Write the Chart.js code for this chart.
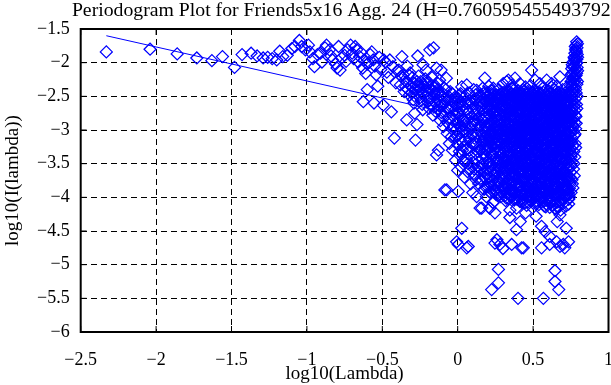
<!DOCTYPE html>
<html>
<head>
<meta charset="utf-8">
<script src="https://cdn.jsdelivr.net/npm/chart.js@4/dist/chart.umd.min.js"></script>
<style>
  html, body { margin: 0; padding: 0; background: #fff; }
  canvas { display: block; }
</style>
</head>
<body>
<canvas id="chart" width="611" height="385"></canvas>
<script>
// tick labels
const xTickVals = [-2.5, -2, -1.5, -1, -0.5, 0, 0.5, 1];
const yTickVals = [-6, -5.5, -5, -4.5, -4, -3.5, -3, -2.5, -2, -1.5];

// periodogram points [log10(lambda), log10(I(lambda))]
const lowFreq = [
  [-2.33,-1.84],[-2.04,-1.80],[-1.86,-1.87],[-1.73,-1.93],[-1.63,-1.97],[-1.56,-1.91],[-1.48,-2.07],
  [-1.43,-1.88],[-1.37,-1.86],[-1.33,-1.90],[-1.29,-1.93],[-1.26,-1.92],[-1.23,-1.94],[-1.20,-1.96],
  [-1.18,-1.83],[-1.16,-1.91],[-1.13,-1.89],[-1.10,-1.79],[-1.08,-1.76],[-1.05,-1.67],[-1.035,-1.76],
  [-1.01,-1.81],[-0.99,-1.74],[-0.98,-1.84],[-0.96,-1.94],[-0.95,-2.06],[-0.93,-1.88],[-0.91,-1.86],
  [-0.90,-1.99],[-0.88,-1.78],[-0.87,-1.74],[-0.85,-1.81],[-0.84,-1.90],[-0.83,-1.96],[-0.81,-2.02],
  [-0.80,-2.08],[-0.79,-1.76],[-0.78,-2.11],[-0.77,-1.93],[-0.75,-1.89],[-0.74,-1.98],[-0.73,-1.81],
  [-0.71,-1.74],[-0.70,-1.86],[-0.69,-1.94],[-0.68,-1.76],[-0.67,-1.81],[-0.66,-1.99],[-0.65,-1.91],
  [-0.64,-1.85],[-0.63,-2.08],[-0.626,-2.58],[-0.62,-1.96],[-0.61,-2.16],[-0.60,-2.40],[-0.60,-2.02],
  [-0.59,-2.00],[-0.58,-1.88],[-0.57,-1.84],[-0.56,-1.96],[-0.555,-2.60],[-0.55,-2.05],[-0.54,-2.18],
  [-0.53,-2.35],[-0.52,-1.92],[-0.51,-2.10]
];
const midFreq = [
  [-0.494,-2.63],[-0.49,-1.96],[-0.48,-1.99],[-0.47,-2.14],[-0.46,-2.22],[-0.45,-1.96],[-0.44,-2.73],
  [-0.43,-2.06],[-0.42,-3.12],[-0.41,-2.30],[-0.40,-2.12],[-0.39,-2.11],[-0.38,-2.33],[-0.375,-2.20],
  [-0.37,-1.91],[-0.36,-2.18],[-0.355,-2.43],[-0.35,-2.26],[-0.34,-2.28],[-0.338,-2.85],[-0.335,-2.05],
  [-0.33,-2.40],[-0.32,-2.48],[-0.315,-2.15],[-0.31,-2.34],[-0.30,-2.22],[-0.295,-2.55],[-0.29,-2.30],
  [-0.285,-2.75],[-0.28,-3.15],[-0.275,-2.40],[-0.27,-2.92],[-0.265,-1.90],[-0.26,-2.20],[-0.255,-2.36],
  [-0.25,-2.52],[-0.245,-2.28],[-0.24,-2.45],[-0.235,-2.62],[-0.23,-2.03],[-0.225,-2.33],[-0.22,-2.50],
  [-0.215,-2.24],[-0.21,-2.11],[-0.205,-2.42],[-0.20,-2.58],[-0.195,-2.30],[-0.19,-2.68],[-0.185,-1.81],
  [-0.18,-2.40],[-0.175,-2.52],[-0.17,-2.22],[-0.165,-2.78],[-0.16,-1.78],[-0.155,-2.46],[-0.15,-2.60],
  [-0.145,-2.35],[-0.14,-2.08],[-0.14,-3.37],[-0.135,-2.55],[-0.13,-2.70],[-0.128,-3.30],[-0.125,-2.44],
  [-0.12,-2.26],[-0.115,-2.86],[-0.11,-2.11],[-0.105,-2.62],[-0.10,-2.50],[-0.095,-2.95],[-0.09,-2.38],
  [-0.085,-3.89],[-0.08,-2.72],[-0.075,-2.23],[-0.07,-3.05],[-0.065,-2.55],[-0.06,-2.82],[-0.055,-3.20],
  [-0.05,-2.43],[-0.045,-2.66],[-0.04,-2.98],[-0.035,-3.30],[-0.03,-2.58],[-0.025,-2.76],[-0.02,-3.12],
  [-0.015,-3.45],[-0.01,-2.64],[-0.005,-2.90],[0.0,-3.22],[0.0,-3.60],[0.004,-3.91],
  [-0.345,-2.36],[-0.325,-2.18],[-0.305,-2.44],[-0.29,-2.60],[-0.27,-2.28],[-0.25,-2.40],[-0.232,-2.70],
  [-0.218,-2.36],[-0.20,-2.46],[-0.186,-2.56],[-0.17,-2.34],[-0.158,-2.66],[-0.146,-2.48],[-0.132,-2.40],
  [-0.12,-2.58],[-0.108,-2.74],[-0.096,-2.46],[-0.084,-2.60],[-0.072,-2.88],[-0.062,-2.50],[-0.052,-2.70],
  [-0.042,-3.10],[-0.032,-2.86],[-0.022,-2.52],[-0.012,-3.00],[-0.004,-2.74],
  [-0.298,-2.38],[-0.284,-2.50],[-0.262,-2.34],[-0.242,-2.56],[-0.226,-2.46],[-0.208,-2.30],[-0.19,-2.52],
  [-0.176,-2.62],[-0.162,-2.42],[-0.148,-2.72],[-0.136,-2.30],[-0.124,-2.64],[-0.112,-2.48],[-0.1,-2.80],
  [-0.088,-2.54],[-0.078,-2.40],[-0.066,-2.68],[-0.056,-2.92],[-0.046,-2.56],[-0.036,-2.46],[-0.026,-2.94],
  [-0.016,-2.70],[-0.008,-3.08],[-0.002,-2.52]
];
const coreA = [
  [0.004,-2.62],[0.008,-3.05],[0.012,-2.48],[0.016,-3.38],[0.02,-2.80],[0.024,-3.55],[0.027,-2.36],
  [0.03,-3.02],[0.034,-2.70],[0.037,-3.25],[0.04,-2.52],[0.044,-3.70],[0.047,-2.93],[0.05,-3.15],
  [0.054,-2.60],[0.057,-3.44],[0.06,-2.33],[0.063,-2.85],[0.066,-3.62],[0.07,-2.74],[0.073,-3.10],
  [0.076,-2.45],[0.08,-3.30],[0.083,-2.98],[0.086,-3.80],[0.09,-2.58],[0.093,-3.20],[0.096,-2.68],
  [0.10,-3.48],[0.10,-3.93],[0.103,-2.90],[0.106,-2.40],[0.11,-3.12],[0.113,-3.66],[0.116,-2.77],
  [0.12,-3.35],[0.123,-2.55],[0.126,-3.99],[0.126,-2.41],[0.13,-3.05],[0.133,-2.84],[0.136,-3.55],
  [0.14,-2.62],[0.143,-3.26],[0.146,-2.95],[0.148,-4.16],[0.15,-2.48],[0.153,-3.72],[0.156,-3.10],
  [0.159,-4.16],[0.16,-2.70],[0.163,-3.42],[0.166,-2.38],[0.17,-3.00],[0.173,-3.62],[0.176,-2.82],
  [0.18,-2.23],[0.18,-3.28],[0.183,-2.56],[0.186,-3.85],[0.19,-3.14],[0.19,-3.99],[0.193,-2.66],
  [0.196,-3.48],[0.2,-2.92],[0.2,-2.44],
  [0.006,-2.90],[0.014,-3.14],[0.022,-2.58],[0.032,-3.30],[0.042,-2.88],[0.052,-3.48],[0.062,-3.04],
  [0.072,-2.60],[0.082,-3.58],[0.092,-2.92],[0.102,-3.22],[0.112,-2.56],[0.122,-3.74],[0.132,-3.32],
  [0.142,-2.80],[0.146,-3.62]
];
const coreB = [
  [0.203,-3.70],[0.206,-2.35],[0.208,-3.20],[0.21,-2.78],[0.212,-4.16],[0.214,-3.55],[0.217,-2.52],
  [0.219,-3.05],[0.222,-2.88],[0.224,-3.82],[0.226,-2.42],[0.229,-3.36],[0.231,-2.65],[0.234,-4.08],
  [0.236,-2.38],[0.238,-3.12],[0.241,-2.96],[0.243,-3.64],[0.245,-2.58],[0.247,-4.23],[0.249,-3.28],
  [0.252,-2.74],[0.254,-3.90],[0.256,-2.48],[0.258,-3.45],[0.26,-3.02],[0.263,-2.62],[0.265,-3.76],
  [0.267,-2.86],[0.27,-3.18],[0.272,-2.40],[0.274,-3.58],[0.277,-2.98],[0.279,-3.95],[0.281,-2.70],
  [0.283,-3.32],[0.285,-2.54],[0.288,-3.10],[0.29,-3.68],[0.292,-2.82],[0.295,-2.45],[0.297,-3.48],
  [0.30,-3.00],[0.302,-2.31],[0.304,-3.86],[0.306,-2.66],[0.309,-3.24],[0.311,-2.92],[0.313,-3.60],
  [0.315,-2.50],[0.318,-4.05],[0.32,-3.14],[0.322,-2.76],[0.325,-2.28],[0.327,-3.40],[0.329,-2.60],
  [0.331,-3.80],[0.334,-3.06],[0.336,-2.26],[0.338,-2.88],[0.34,-3.52],[0.342,-2.44],[0.346,-4.19],
  [0.348,-3.22],[0.35,-2.70],[0.352,-3.70],[0.355,-2.96],[0.357,-2.38],[0.36,-2.33],[0.36,-3.44],
  [0.362,-3.92],[0.364,-2.58],[0.367,-3.10],[0.369,-2.82],[0.371,-3.64],[0.373,-2.48],[0.376,-3.30],
  [0.378,-4.02],[0.38,-2.23],[0.38,-2.92],[0.383,-3.56],[0.385,-2.64],[0.387,-3.16],[0.39,-4.16],
  [0.392,-2.76],[0.394,-3.38],[0.396,-2.52],[0.398,-3.84]
];
const coreC = [
  [0.401,-3.04],[0.403,-2.42],[0.405,-3.62],[0.407,-2.86],[0.409,-3.26],[0.411,-2.60],[0.413,-2.31],
  [0.415,-3.90],[0.417,-3.12],[0.419,-2.72],[0.421,-3.48],[0.423,-2.50],[0.425,-4.08],[0.427,-2.95],
  [0.429,-3.36],[0.431,-2.66],[0.433,-3.74],[0.435,-2.40],[0.437,-3.20],[0.439,-2.84],[0.441,-3.56],
  [0.443,-2.56],[0.445,-3.96],[0.447,-3.02],[0.449,-2.36],[0.451,-3.44],[0.453,-2.78],[0.455,-3.14],
  [0.457,-4.12],[0.459,-2.62],[0.461,-3.66],[0.463,-2.92],[0.465,-3.30],[0.467,-2.46],[0.469,-3.84],
  [0.471,-2.70],[0.473,-3.08],[0.475,-3.52],[0.477,-2.54],[0.479,-2.98],[0.481,-3.78],[0.483,-2.34],
  [0.485,-3.24],[0.487,-2.82],[0.489,-3.60],[0.49,-2.11],[0.491,-4.02],[0.493,-2.64],[0.495,-3.16],
  [0.497,-2.90],[0.499,-3.42],[0.501,-2.48],[0.503,-3.88],[0.505,-2.74],[0.507,-3.06],[0.509,-2.40],
  [0.511,-3.54],[0.513,-2.26],[0.513,-2.96],[0.515,-3.72],[0.517,-2.58],[0.519,-3.34],[0.521,-4.10],
  [0.523,-2.84],[0.525,-3.20],[0.527,-2.52],[0.529,-3.64],[0.531,-2.68],[0.533,-3.96],[0.535,-3.00],
  [0.537,-2.44],[0.539,-3.46],[0.541,-2.78],[0.543,-3.82],[0.545,-2.31],[0.546,-3.12],[0.548,-2.62],
  [0.55,-3.58],[0.552,-2.92],[0.554,-4.06],[0.556,-2.50],[0.558,-3.28],[0.56,-2.80],[0.562,-3.70],
  [0.564,-2.38],[0.566,-3.04],[0.568,-3.50],[0.57,-2.66],[0.572,-3.90],[0.574,-2.96],[0.576,-3.22],
  [0.578,-2.54],[0.58,-3.62],[0.582,-2.86],[0.584,-4.14],[0.586,-2.46],[0.588,-3.36],[0.59,-2.26],
  [0.59,-2.74],[0.592,-3.78],[0.594,-3.10],[0.596,-2.60],[0.598,-3.44]
];
const coreD = [
  [0.6,-2.92],[0.602,-3.66],[0.603,-2.42],[0.605,-3.16],[0.607,-2.78],[0.608,-4.02],[0.61,-3.40],
  [0.611,-2.56],[0.613,-3.00],[0.615,-3.86],[0.616,-2.68],[0.618,-3.28],[0.62,-2.36],[0.621,-3.56],
  [0.623,-2.31],[0.623,-2.90],[0.625,-4.12],[0.626,-3.12],[0.628,-2.62],[0.63,-3.74],[0.631,-2.84],
  [0.633,-3.38],[0.635,-2.48],[0.636,-3.96],[0.638,-3.02],[0.64,-2.72],[0.641,-3.52],[0.643,-2.40],
  [0.645,-3.22],[0.646,-2.96],[0.648,-3.80],[0.65,-2.58],[0.651,-3.46],[0.653,-2.82],[0.655,-4.18],
  [0.656,-2.35],[0.658,-3.08],[0.66,-3.64],[0.661,-2.66],[0.663,-3.30],[0.665,-2.50],[0.666,-3.92],
  [0.668,-2.90],[0.67,-3.18],[0.671,-2.44],[0.673,-3.70],[0.675,-2.76],[0.676,-3.42],[0.678,-2.21],
  [0.678,-4.26],[0.68,-3.00],[0.681,-2.60],[0.683,-3.58],[0.685,-2.86],[0.686,-3.86],[0.688,-2.52],
  [0.69,-3.26],[0.691,-2.70],[0.693,-4.04],[0.695,-3.10],[0.696,-2.40],[0.698,-3.50],[0.70,-2.94],
  [0.701,-3.76],[0.703,-2.62],[0.705,-3.34],[0.706,-2.80],[0.708,-3.98],[0.71,-2.48],[0.711,-3.14],
  [0.713,-3.62],[0.715,-2.72],[0.716,-3.04],[0.718,-3.88],[0.72,-2.56],[0.721,-3.44],[0.723,-2.88],
  [0.725,-3.72],[0.726,-2.36],[0.728,-3.20],[0.73,-3.93],[0.731,-2.64],[0.733,-3.54],[0.735,-2.98],
  [0.736,-4.10],[0.738,-2.44],[0.74,-3.30],[0.74,-3.87]
];
// dense body of the cloud, one row per frequency column: [x, y, y, ...]
const fillNear = [
  [0.003,-2.55,-3.08],[0.011,-2.74,-3.32],[0.019,-2.46,-2.96],[0.029,-3.18,-2.64],[0.039,-2.84,-3.46],
  [0.049,-2.50,-3.02],[0.059,-2.70,-3.28],[0.069,-3.50,-2.92],[0.079,-2.56,-3.14],[0.089,-2.80,-3.40],
  [0.099,-3.06,-2.62],[0.109,-2.86,-3.58],[0.119,-2.48,-3.20],[0.129,-2.70,-3.44],[0.139,-3.00,-3.80],
  [0.149,-2.58,-3.30],[0.159,-2.84,-3.52],[0.169,-3.16,-2.60],[0.179,-2.44,-3.70],[0.189,-2.96,-3.38],
  [0.199,-2.68,-3.60]
];
const fillLeft = [
  [0.151,-2.92,-3.58],[0.155,-2.52,-3.30],[0.159,-3.06,-3.76],[0.163,-2.64,-3.18],[0.167,-2.86,-3.50],
  [0.171,-2.46,-3.34],[0.175,-3.12,-3.88],[0.179,-2.72,-3.02],[0.183,-3.40,-2.94],[0.187,-2.58,-3.22],
  [0.191,-2.80,-3.66],[0.195,-3.08,-2.50],[0.199,-3.30,-3.80],[0.203,-2.62,-2.98],[0.207,-3.46,-3.14],
  [0.211,-2.54,-3.92],[0.215,-2.90,-3.26],[0.219,-3.62,-2.68],[0.223,-3.10,-2.46],[0.227,-3.52,-2.84],
  [0.231,-3.00,-3.74],[0.235,-2.74,-3.38],[0.239,-3.20,-2.56],[0.243,-3.90,-2.90],[0.247,-2.66,-3.56],
  [0.251,-3.08,-3.34],[0.255,-2.80,-3.96],[0.259,-3.62,-2.52],[0.263,-2.94,-3.24],[0.267,-3.44,-2.60],
  [0.271,-2.76,-3.80],[0.275,-3.16,-3.00],[0.279,-2.50,-3.48],[0.283,-3.70,-2.88],[0.287,-2.62,-3.36],
  [0.291,-3.04,-3.92],[0.295,-2.78,-3.20],[0.299,-3.54,-2.56],[0.303,-2.96,-3.74],[0.307,-3.30,-2.44],
  [0.311,-2.70,-3.98],[0.315,-3.12,-3.46],[0.319,-2.84,-2.52],[0.323,-3.60,-3.02],[0.327,-2.66,-3.84],
  [0.331,-3.24,-2.96],[0.335,-3.50,-2.58],[0.339,-2.78,-4.02],[0.343,-3.14,-3.36],[0.347,-2.48,-2.90]
];
const fillMid = [
  [0.351,-2.56,-3.12,-3.82],[0.355,-2.80,-3.40,-3.96],[0.359,-3.06,-2.46,-3.64],[0.363,-2.70,-3.26,-3.90],
  [0.367,-2.92,-3.56,-2.38],[0.371,-3.16,-2.62,-3.78],[0.375,-2.84,-3.44,-4.04],[0.379,-2.52,-3.02,-3.68],
  [0.383,-3.30,-2.74,-3.94],[0.387,-2.96,-3.58,-2.44],[0.391,-2.64,-3.20,-3.86],[0.395,-3.08,-3.52,-2.86],
  [0.399,-2.50,-3.34,-3.98],[0.403,-2.78,-3.10,-3.72],[0.407,-3.40,-2.56,-3.00],[0.411,-2.90,-3.64,-4.06],
  [0.415,-2.68,-3.28,-3.84],[0.419,-3.14,-2.44,-3.58],[0.423,-2.82,-3.46,-3.96],[0.427,-2.60,-3.06,-3.76],
  [0.431,-3.34,-2.94,-4.02],[0.435,-2.72,-3.18,-3.62],[0.439,-3.00,-2.52,-3.88],[0.443,-2.86,-3.42,-3.70],
  [0.447,-2.64,-3.24,-4.08],[0.451,-3.10,-2.76,-3.56],[0.455,-2.48,-3.36,-3.92],[0.459,-2.96,-3.60,-3.14],
  [0.463,-2.70,-3.04,-3.80],[0.467,-3.26,-2.58,-3.98],[0.471,-2.88,-3.48,-3.66],[0.475,-2.62,-3.12,-3.86],
  [0.479,-3.38,-2.80,-4.04],[0.483,-2.54,-3.00,-3.72],[0.487,-3.18,-2.94,-3.54],[0.491,-2.74,-3.32,-3.90],
  [0.495,-2.44,-3.62,-3.08],[0.499,-2.84,-3.20,-3.96],[0.503,-3.02,-2.60,-3.76],[0.507,-2.68,-3.44,-4.02],
  [0.511,-3.28,-2.90,-3.60],[0.515,-2.56,-3.10,-3.88],[0.519,-2.82,-3.52,-3.70],[0.523,-3.06,-2.46,-3.94],
  [0.527,-2.70,-3.34,-4.06],[0.531,-2.98,-3.18,-3.66],[0.535,-2.58,-3.58,-3.84],[0.539,-3.12,-2.78,-3.98],
  [0.543,-2.64,-3.40,-3.74],[0.547,-2.90,-3.24,-4.04]
];
const fillRight = [
  [0.551,-2.52,-3.06,-3.66,-3.92],[0.555,-2.76,-3.38,-3.80],[0.559,-2.62,-3.16,-3.58,-4.00],
  [0.563,-2.90,-3.46,-3.74],[0.567,-2.44,-3.00,-3.86],[0.571,-2.70,-3.28,-3.62,-4.06],
  [0.575,-2.84,-3.50,-3.94],[0.579,-2.58,-3.12,-3.76],[0.583,-2.96,-3.36,-3.88],
  [0.587,-2.66,-3.22,-3.70,-4.10],[0.591,-2.50,-3.04,-3.54],[0.595,-2.80,-3.44,-3.96],
  [0.599,-2.64,-3.18,-3.82],[0.603,-2.92,-3.52,-4.04],[0.607,-2.56,-3.08,-3.68],
  [0.611,-2.74,-3.32,-3.90],[0.615,-2.46,-2.98,-3.60,-4.08],[0.619,-2.86,-3.24,-3.78],
  [0.623,-2.60,-3.42,-3.94],[0.627,-2.78,-3.14,-3.66],[0.631,-2.52,-3.06,-3.86,-4.12],
  [0.635,-2.94,-3.34,-3.72],[0.639,-2.68,-3.20,-3.98],[0.643,-2.84,-3.48,-3.80],
  [0.647,-2.56,-3.02,-3.62,-4.06],[0.651,-2.76,-3.26,-3.88],[0.655,-2.48,-3.12,-3.70],
  [0.659,-2.90,-3.40,-3.96],[0.663,-2.62,-3.08,-3.84],[0.667,-2.80,-3.30,-3.64,-4.14],
  [0.671,-2.54,-3.16,-3.76],[0.675,-2.72,-3.44,-3.92],[0.679,-2.96,-3.22,-3.60],
  [0.683,-2.58,-3.04,-3.82,-4.08],[0.687,-2.82,-3.36,-3.70],[0.691,-2.46,-3.10,-3.94],
  [0.695,-2.68,-3.28,-3.66],[0.699,-2.88,-3.50,-3.86],[0.703,-2.60,-3.14,-4.02],
  [0.707,-2.76,-3.38,-3.74],[0.711,-2.52,-3.06,-3.90],[0.715,-2.92,-3.24,-3.62],
  [0.719,-2.66,-3.46,-3.84],[0.723,-2.84,-3.18,-3.98],[0.727,-2.58,-3.32,-3.70],
  [0.731,-2.74,-3.08,-3.88],[0.735,-2.50,-3.40,-3.76],[0.739,-2.90,-3.22,-3.96]
];
const fillExtra = [
  [0.202,-2.49,-3.27,-3.85],[0.208,-2.71,-3.49,-3.13],[0.214,-2.93,-2.57,-3.71],[0.220,-3.15,-2.79,-3.93],
  [0.226,-3.37,-2.61,-3.01],[0.232,-2.53,-3.59,-3.23],[0.238,-2.75,-3.81,-3.45],[0.244,-2.97,-2.49,-3.67],
  [0.250,-3.19,-2.71,-3.89],[0.256,-3.41,-2.93,-2.59],[0.262,-3.63,-2.81,-3.15],[0.268,-2.55,-3.85,-3.33],
  [0.274,-2.77,-3.07,-3.55],[0.280,-2.99,-2.47,-3.77],[0.286,-3.21,-2.69,-3.99],[0.292,-3.43,-2.91,-2.51],
  [0.298,-3.65,-3.13,-2.73],[0.304,-2.57,-3.35,-3.87],[0.310,-2.79,-3.57,-3.17],[0.316,-3.01,-2.45,-3.79],
  [0.322,-3.23,-2.67,-4.01],[0.328,-3.45,-2.89,-3.11],[0.334,-3.67,-2.55,-3.33],[0.340,-2.59,-3.89,-3.55],
  [0.346,-2.81,-3.07,-3.77],[0.352,-3.03,-2.49,-3.99],[0.358,-3.25,-2.71,-3.55],[0.364,-3.47,-2.93,-3.77],
  [0.370,-3.69,-2.41,-3.15],[0.376,-2.61,-3.91,-3.37],[0.382,-2.83,-3.09,-3.59],[0.388,-3.05,-2.51,-3.81],
  [0.394,-3.27,-2.73,-4.03],[0.400,-3.49,-2.95,-2.45],[0.406,-3.71,-3.17,-2.67],[0.412,-2.63,-3.93,-3.39],
  [0.418,-2.85,-3.61,-3.11],[0.424,-3.07,-2.53,-3.83],[0.430,-3.29,-2.75,-4.05],[0.436,-3.51,-2.97,-2.43],
  [0.442,-3.73,-3.19,-2.65],[0.448,-2.65,-3.95,-3.41],[0.454,-2.87,-3.63,-3.09],[0.460,-3.09,-2.55,-3.85],
  [0.466,-3.31,-2.77,-4.07],[0.472,-3.53,-2.99,-2.41],[0.478,-3.75,-3.21,-2.63],[0.484,-2.67,-3.97,-3.43],
  [0.490,-2.89,-3.65,-3.11],[0.496,-3.11,-2.57,-3.87],[0.502,-3.33,-2.79,-4.09],[0.508,-3.55,-3.01,-2.43],
  [0.514,-3.77,-3.23,-2.65],[0.520,-2.69,-3.99,-3.45],[0.526,-2.91,-3.67,-3.13],[0.532,-3.13,-2.59,-3.89],
  [0.538,-3.35,-2.81,-4.11],[0.544,-3.57,-3.03,-2.47],[0.550,-3.79,-3.25,-2.69],[0.556,-2.71,-4.01,-3.47],
  [0.562,-2.93,-3.69,-3.15],[0.568,-3.15,-2.61,-3.91],[0.574,-3.37,-2.83,-4.13],[0.580,-3.59,-3.05,-2.49],
  [0.586,-3.81,-3.27,-2.71],[0.592,-2.73,-4.03,-3.49],[0.598,-2.95,-3.71,-3.17],[0.604,-3.17,-2.63,-3.93],
  [0.610,-3.39,-2.85,-4.15],[0.616,-3.61,-3.07,-2.51],[0.622,-3.83,-3.29,-2.73],[0.628,-2.75,-4.05,-3.51],
  [0.634,-2.97,-3.73,-3.19],[0.640,-3.19,-2.65,-3.95],[0.646,-3.41,-2.87,-4.17],[0.652,-3.63,-3.09,-2.53],
  [0.658,-3.85,-3.31,-2.75],[0.664,-2.77,-4.07,-3.53],[0.670,-2.99,-3.75,-3.21],[0.676,-3.21,-2.67,-3.97],
  [0.682,-3.43,-2.89,-4.19],[0.688,-3.65,-3.11,-2.55],[0.694,-3.87,-3.33,-2.77],[0.700,-2.79,-4.09,-3.55],
  [0.706,-3.01,-3.77,-3.23],[0.712,-3.23,-2.69,-3.99],[0.718,-3.45,-2.91,-4.13],[0.724,-3.67,-3.13,-2.57],
  [0.730,-3.89,-3.35,-2.79],[0.736,-2.81,-4.03,-3.57]
];
const fillMore = [
  [0.301,-2.62,-3.41],[0.306,-3.08,-3.83],[0.311,-2.47,-3.26],[0.316,-2.88,-3.67],[0.321,-3.52,-2.55],
  [0.326,-3.18,-3.94],[0.331,-2.69,-3.45],[0.336,-2.98,-3.73],[0.341,-2.43,-3.31],[0.346,-3.60,-2.76],
  [0.351,-2.92,-3.89],[0.356,-3.36,-2.58],[0.361,-2.66,-3.14],[0.366,-3.78,-3.02],[0.371,-2.49,-3.49],
  [0.376,-2.81,-3.66],[0.381,-3.27,-2.61],[0.386,-3.92,-2.99],[0.391,-2.54,-3.44],[0.396,-3.12,-3.71],
  [0.401,-2.73,-3.57],[0.406,-3.33,-2.47],[0.411,-2.95,-3.81],[0.416,-2.58,-3.16],[0.421,-3.64,-2.83],
  [0.426,-3.05,-3.95],[0.431,-2.46,-3.37],[0.436,-2.89,-3.53],[0.441,-3.22,-2.64],[0.446,-3.74,-2.97],
  [0.451,-2.52,-3.29],[0.456,-3.46,-2.79],[0.461,-2.68,-3.88],[0.466,-3.15,-3.62],[0.471,-2.44,-3.06],
  [0.476,-2.91,-3.41],[0.481,-3.58,-2.57],[0.486,-3.01,-3.93],[0.491,-2.63,-3.19],[0.496,-3.39,-2.84],
  [0.501,-2.72,-3.77],[0.506,-3.13,-3.55],[0.511,-2.49,-3.01],[0.516,-2.94,-3.66],[0.521,-3.31,-2.62],
  [0.526,-3.85,-2.77],[0.531,-2.56,-3.24],[0.536,-3.47,-2.99],[0.541,-2.67,-3.91],[0.546,-3.09,-3.58],
  [0.551,-2.45,-3.35],[0.556,-2.87,-3.72],[0.561,-3.21,-2.59],[0.566,-3.63,-2.96],[0.571,-2.53,-3.43],
  [0.576,-3.06,-3.87],[0.581,-2.74,-3.28],[0.586,-3.51,-2.65],[0.591,-2.92,-3.96],[0.596,-3.37,-2.51],
  [0.601,-2.69,-3.12],[0.606,-3.79,-3.00],[0.611,-2.47,-3.54],[0.616,-2.83,-3.69],[0.621,-3.25,-2.58],
  [0.626,-3.89,-2.97],[0.631,-2.55,-3.46],[0.636,-3.11,-3.74],[0.641,-2.71,-3.59],[0.646,-3.35,-2.49],
  [0.651,-2.96,-3.84],[0.656,-2.61,-3.18],[0.661,-3.67,-2.85],[0.666,-3.04,-3.97],[0.671,-2.48,-3.39],
  [0.676,-2.90,-3.55],[0.681,-3.23,-2.66],[0.686,-3.76,-2.99],[0.691,-2.57,-3.32],[0.696,-3.44,-2.80],
  [0.701,-2.70,-3.90],[0.706,-3.17,-3.64],[0.711,-2.45,-3.08],[0.716,-2.93,-3.43],[0.721,-3.56,-2.60],
  [0.726,-3.03,-3.95],[0.731,-2.67,-3.21],[0.736,-3.41,-2.86],[0.741,-2.74,-3.70]
];
const wallPts = [
  [0.789,-1.69],[0.786,-1.74],[0.791,-1.78],[0.782,-1.80],[0.788,-1.84],[0.777,-1.86],[0.793,-1.88],
  [0.784,-1.90],[0.772,-1.92],[0.790,-1.95],[0.779,-1.97],[0.766,-1.99],[0.786,-2.01],[0.760,-2.03],
  [0.774,-2.05],[0.792,-2.07],[0.756,-2.09],[0.781,-2.11],[0.768,-2.14],[0.788,-2.16],[0.754,-2.18],
  [0.775,-2.20],[0.762,-2.23],[0.783,-2.25],[0.752,-2.28],[0.770,-2.30],[0.790,-2.32],[0.758,-2.35],
  [0.778,-2.37],[0.765,-2.40],[0.750,-2.43],[0.786,-2.45],[0.772,-2.48],[0.757,-2.51],[0.780,-2.54],
  [0.764,-2.57],[0.749,-2.60],[0.788,-2.62],[0.770,-2.65],[0.755,-2.68],[0.778,-2.71],[0.762,-2.74],
  [0.748,-2.77],[0.784,-2.80],[0.768,-2.83],[0.753,-2.86],[0.775,-2.89],[0.760,-2.92],[0.746,-2.95],
  [0.782,-2.98],[0.766,-3.01],[0.751,-3.04],[0.773,-3.08],[0.758,-3.12],[0.744,-3.16],[0.779,-3.20],
  [0.763,-3.24],[0.750,-3.28],[0.770,-3.32],[0.756,-3.36],[0.776,-3.40],[0.745,-3.44],[0.762,-3.48],
  [0.752,-3.53],[0.768,-3.58],[0.748,-3.63],[0.773,-3.68],[0.758,-3.74],[0.745,-3.80],[0.764,-3.86],
  [0.752,-3.93],[0.742,-4.00],
  [0.794,-1.72],[0.780,-1.76],[0.785,-1.82],[0.795,-1.92],[0.775,-1.94],[0.790,-2.00],[0.764,-2.06],
  [0.795,-2.12],[0.759,-2.16],[0.785,-2.19],[0.770,-2.24],[0.794,-2.28],[0.756,-2.32],[0.782,-2.40],
  [0.762,-2.46],[0.792,-2.50],[0.753,-2.56],[0.776,-2.60],[0.790,-2.68],[0.758,-2.72],[0.780,-2.78],
  [0.750,-2.84],[0.786,-2.90],[0.765,-2.96],[0.748,-3.02],[0.778,-3.06],[0.755,-3.18],[0.782,-3.26],
  [0.752,-3.40],[0.770,-3.50],[0.746,-3.70],[0.760,-3.80]
];
const outliers = [
  [-0.073,-3.89],[0.027,-4.46],[0.004,-4.70],[-0.007,-4.66],[0.06,-4.75],[0.07,-4.73],[0.214,-4.16],
  [0.235,-4.08],[0.247,-4.68],[0.26,-4.63],[0.28,-4.70],[0.30,-4.76],[0.358,-4.70],[0.39,-4.48],
  [0.424,-4.75],[0.435,-4.75],[0.556,-4.43],[0.58,-4.51],[0.61,-4.58],[0.556,-4.75],[0.61,-4.70],
  [0.656,-4.66],[0.678,-4.73],[0.70,-4.70],[0.71,-4.75],[0.72,-4.46],[0.735,-4.66],[0.27,-5.07],
  [0.27,-5.27],[0.225,-5.37],[0.40,-5.50],[0.568,-5.50],[0.645,-5.09],[0.645,-5.25],[0.67,-5.37],
  [0.346,-4.30],[0.45,-4.23],[0.52,-4.28],[0.66,-4.36],[0.73,-3.93],[0.415,-4.36]
];
// least squares fit line
const fitLine = [[-2.33, -1.60], [0.798, -3.18]];

const BLUE = '#0000ff';
const toPts = arr => arr.map(p => ({ x: p[0], y: p[1] }));
const colPts = rows => rows.flatMap(r => r.slice(1).map(y => ({ x: r[0], y })));
const serif = 'Liberation Serif, Times New Roman, serif';
const fmt = v => (v < 0 ? '\u2212' + Math.abs(v) : String(v));

const scatterSet = data => ({
  data,
  pointStyle: 'rectRot',
  pointRadius: 6,
  pointBorderWidth: 1.25,
  pointBorderColor: BLUE,
  pointBackgroundColor: 'rgba(0,0,0,0)',
  showLine: false
});

// frame, inward ticks and the title
const framePlugin = {
  id: 'frame',
  afterDraw(chart) {
    const { ctx, chartArea: a, scales } = chart;
    ctx.save();
    ctx.strokeStyle = '#000';
    ctx.lineWidth = 1;
    ctx.beginPath();
    xTickVals.forEach(v => {
      const px = scales.x.getPixelForValue(v);
      ctx.moveTo(px, a.top); ctx.lineTo(px, a.top + 6);
      ctx.moveTo(px, a.bottom); ctx.lineTo(px, a.bottom - 6);
    });
    yTickVals.forEach(v => {
      const py = scales.y.getPixelForValue(v);
      ctx.moveTo(a.left, py); ctx.lineTo(a.left + 6, py);
      ctx.moveTo(a.right, py); ctx.lineTo(a.right - 6, py);
    });
    ctx.stroke();
    ctx.lineWidth = 2;
    ctx.strokeRect(a.left, a.top, a.right - a.left, a.bottom - a.top);

    ctx.fillStyle = '#000';
    ctx.font = '19.75px ' + serif;
    ctx.textAlign = 'center';
    ctx.textBaseline = 'alphabetic';
    ctx.fillText('Periodogram Plot for Friends5x16 Agg. 24 (H=0.760595455493792)', (a.left + a.right) / 2, 16);
    ctx.restore();
  }
};

new Chart(document.getElementById('chart'), {
  type: 'scatter',
  data: {
    datasets: [
      scatterSet(toPts(lowFreq)),
      scatterSet(toPts(midFreq)),
      scatterSet(toPts(coreA)),
      scatterSet(toPts(coreB)),
      scatterSet(toPts(coreC)),
      scatterSet(toPts(coreD)),
      scatterSet(colPts(fillNear)),
      scatterSet(colPts(fillLeft)),
      scatterSet(colPts(fillMid)),
      scatterSet(colPts(fillRight)),
      scatterSet(colPts(fillExtra)),
      scatterSet(colPts(fillMore)),
      scatterSet(toPts(wallPts)),
      scatterSet(toPts(outliers)),
      {
        data: toPts(fitLine),
        showLine: true,
        borderColor: BLUE,
        borderWidth: 1,
        pointRadius: 0
      }
    ]
  },
  options: {
    responsive: false,
    animation: false,
    layout: { autoPadding: false, padding: { top: 29, right: 2.5, left: 0, bottom: 0 } },
    plugins: { legend: { display: false }, tooltip: { enabled: false } },
    scales: {
      x: {
        type: 'linear', min: -2.5, max: 1,
        afterBuildTicks: s => { s.ticks = xTickVals.map(v => ({ value: v })); },
        afterFit: s => { s.height = 53; },
        // invisible tick marks push the labels down; negative padding keeps the right margin small
        grid: { color: '#000', lineWidth: 1, drawTicks: true, tickLength: 19, tickColor: 'rgba(0,0,0,0)' },
        border: { display: false, dash: [6, 4] },
        ticks: { color: '#000', font: { family: serif, size: 18 }, padding: -2, maxRotation: 0, callback: fmt },
        title: { display: true, text: 'log10(Lambda)', color: '#000', font: { family: serif, size: 19 }, padding: { top: 0, bottom: 0 } }
      },
      y: {
        type: 'linear', min: -6, max: -1.5,
        afterBuildTicks: s => { s.ticks = yTickVals.map(v => ({ value: v })); },
        afterFit: s => { s.width = 80.7; },
        grid: { color: '#000', lineWidth: 1, drawTicks: false },
        border: { display: false, dash: [6, 4] },
        ticks: { color: '#000', font: { family: serif, size: 18 }, padding: 11, callback: fmt },
        title: { display: true, text: 'log10(I(lambda))', color: '#000', font: { family: serif, size: 19 }, padding: { top: 2, bottom: 0 } }
      }
    }
  },
  plugins: [framePlugin]
});
</script>
</body>
</html>
